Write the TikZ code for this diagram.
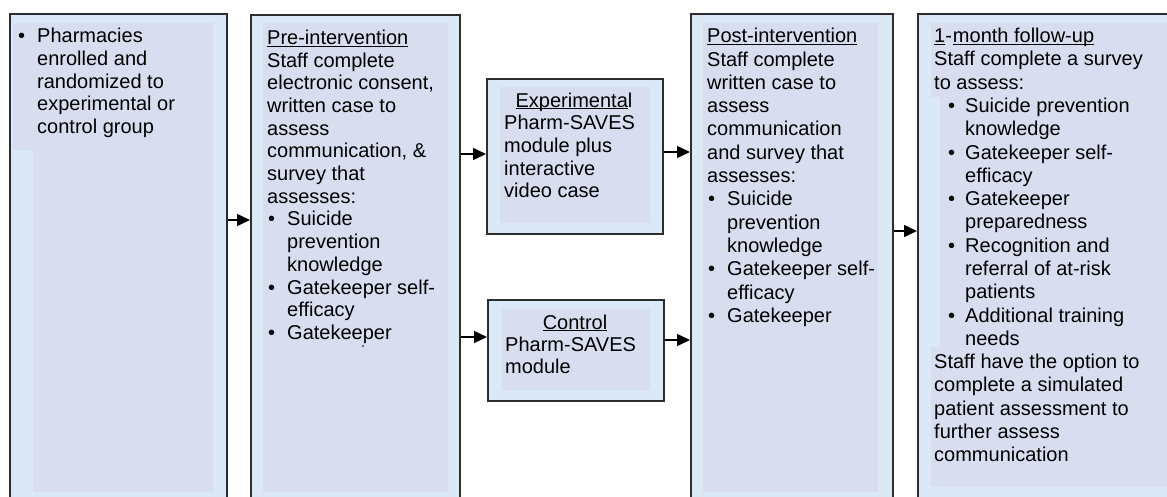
\documentclass[tikz,border=0pt]{standalone}
\usepackage{fontspec}
\setmainfont{Liberation Sans}
\usetikzlibrary{arrows.meta}

\definecolor{boxout}{RGB}{219,232,245}
\definecolor{boxin}{RGB}{216,222,240}
\definecolor{edge}{RGB}{45,45,45}

% underline at a fixed depth below the baseline
\newcommand\ul[1]{\setbox0\hbox{#1}\rlap{\rule[-2.3pt]{\wd0}{1pt}}\box0}
% bullet item: indent, with the bullet hanging to the left of the text
\newcommand\blt[2][12pt]{\hspace*{#2}\llap{\textbullet\hspace{#1}}}
% one text node per line: prefix, x, first baseline, line spacing, lines
\newcommand\txtlines[5]{%
  \foreach \t [count=\i from 0] in {#5}{%
    \node[txt] (#1\i) at (#2,{#3+\i*#4}) {\t};}}

\tikzset{
  bigbox/.style={draw=edge, line width=1.5pt, fill=boxout, anchor=north west, inner sep=0pt},
  innerfill/.style={fill=boxin},
  txt/.style={anchor=base west, inner sep=0pt, font=\fontsize{20}{23}\selectfont},
  ctxt/.style={txt, anchor=base},
  arr/.style={draw=black, line width=1.5pt, -{Triangle[length=13pt,width=12pt]}}
}

\begin{document}
\begin{tikzpicture}[x=1pt,y=-1pt]
\useasboundingbox (0,0) rectangle (1167,496);
\clip (0,0) rectangle (1167,496);

% frames
\node[bigbox, minimum width=217pt, minimum height=500pt] (b1) at (9,13) {};
\node[bigbox, minimum width=209pt, minimum height=500pt] (b2) at (250,14) {};
\node[bigbox, minimum width=176pt, minimum height=155pt] (ex) at (486,78) {};
\node[bigbox, minimum width=176pt, minimum height=101pt] (ct) at (487,299) {};
\node[bigbox, minimum width=202pt, minimum height=500pt] (po) at (690,13) {};
\node[bigbox, minimum width=270pt, minimum height=500pt] (fu) at (917,13) {};

% shaded text areas
\fill[innerfill] (13,23) rectangle (213,150);
\fill[innerfill] (33,150) rectangle (213,492);
\fill[innerfill] (263,23) rectangle (448,492);
\fill[innerfill] (500,87) rectangle (650,223);
\fill[innerfill] (502,309) rectangle (650,390);
\fill[innerfill] (703,23) rectangle (878,492);
\fill[innerfill] (931,23) rectangle (1167,97);
\fill[innerfill] (940,97) rectangle (1167,347);
\fill[innerfill] (931,347) rectangle (1167,487);

% connectors
\coordinate (r1) at (0,220);
\coordinate (r2) at (0,154);
\coordinate (r3) at (0,337);
\coordinate (r4) at (0,152);
\coordinate (r5) at (0,340);
\coordinate (r6) at (0,231);
\draw[arr] (r1 -| b1.east) -- (r1 -| b2.west);
\draw[arr] (r2 -| b2.east) -- (r2 -| ex.west);
\draw[arr] (r3 -| b2.east) -- (r3 -| ct.west);
\draw[arr] (r4 -| ex.east) -- (r4 -| po.west);
\draw[arr] (r5 -| ct.east) -- (r5 -| po.west);
\draw[arr] (r6 -| po.east) -- (r6 -| fu.west);

% texts
\txtlines{ta}{37}{42.7}{22.7}{\blt{0pt}Pharmacies, enrolled and, randomized to, experimental or, control group}

\txtlines{tb}{267}{44.3}{22.7}{\ul{Pre-intervention}, Staff complete, {electronic consent,}, written case to, assess, {communication, \&}, survey that, assesses:, \blt{20pt}Suicide, \hspace*{20pt}prevention, \hspace*{20pt}knowledge, \blt{20pt}Gatekeeper self-, \hspace*{20pt}efficacy, \blt{20pt}Gatekeeper}
\fill (363,346) circle (0.9pt);

\node[ctxt] (tex) at (574,107) {\ul{Experimenta}l};
\txtlines{te}{504}{129.7}{22.7}{Pharm-SAVES, module plus, interactive, video case}

\node[ctxt] (tct) at (575,329) {\ul{Control}};
\txtlines{tc}{505}{351}{22.3}{Pharm-SAVES, module}

\txtlines{tp}{707}{42.7}{23.3}{\ul{Post-intervention}, Staff complete, written case to, assess, communication, and survey that, assesses:, \blt{20pt}Suicide, \hspace*{20pt}prevention, \hspace*{20pt}knowledge, \blt{20pt}Gatekeeper self-, \hspace*{20pt}efficacy, \blt{20pt}Gatekeeper}

\txtlines{tf}{934}{42.7}{23.28}{\ul{1}-\hspace{1pt}\ul{month follow-up}, Staff complete a survey, to assess:, \blt[10pt]{31pt}Suicide prevention, \hspace*{31pt}knowledge, \blt[10pt]{31pt}Gatekeeper self-, \hspace*{31pt}efficacy, \blt[10pt]{31pt}Gatekeeper, \hspace*{31pt}preparedness, \blt[10pt]{31pt}Recognition and, \hspace*{31pt}referral of at-risk, \hspace*{31pt}patients, \blt[10pt]{31pt}Additional training, \hspace*{31pt}needs, Staff have the option to, complete a simulated, patient assessment to, further assess, communication}
\end{tikzpicture}
\end{document}
